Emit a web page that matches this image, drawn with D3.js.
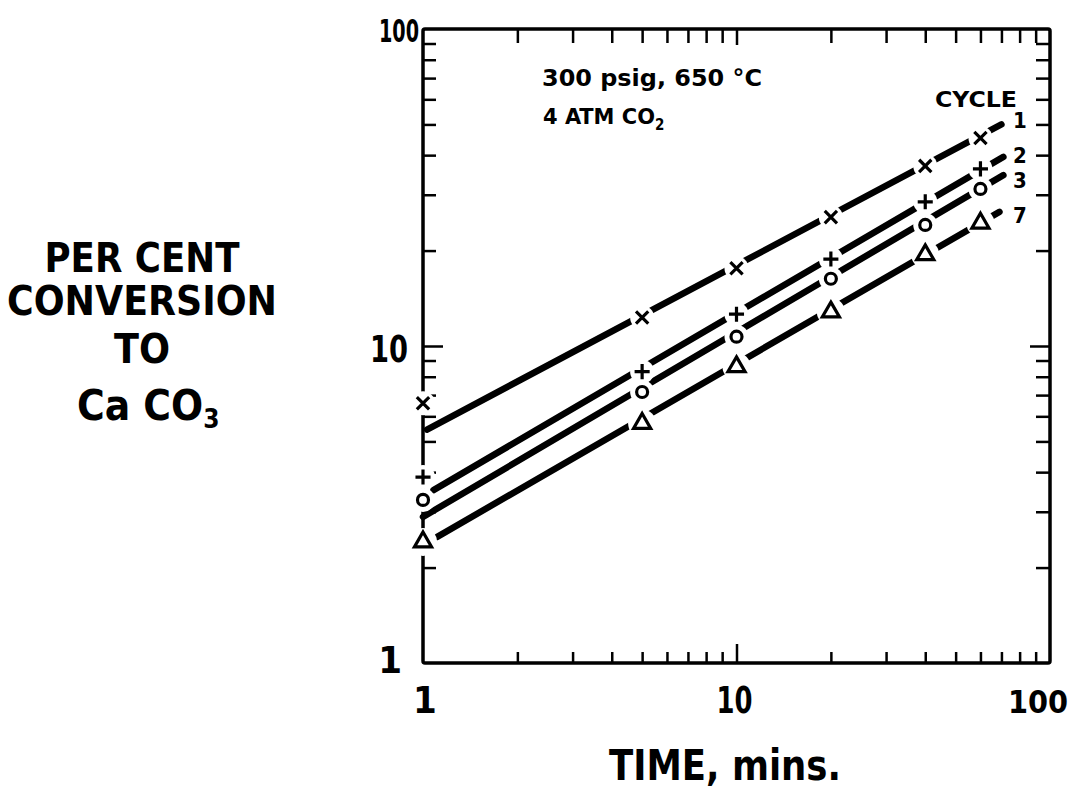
<!DOCTYPE html>
<html>
<head>
<meta charset="utf-8">
<script src="https://cdn.jsdelivr.net/npm/d3@7"></script>
<style>
  body { margin: 0; background: #fff; }
  text { font-family: "DejaVu Sans Condensed", "DejaVu Sans", sans-serif; font-weight: bold; fill: #000; }
</style>
</head>
<body>
<div id="chart"></div>
<script>
// Sample times (minutes)
const times = [1, 5, 10, 20, 40, 60];

// Per cent conversion for each cycle
const cycle1 = [6.6, 12.3, 17.6, 25.5, 37.0, 45.3];
const cycle2 = [3.86, 8.3, 12.6, 18.8, 28.5, 36.2];
const cycle3 = [3.27, 7.16, 10.7, 16.3, 24.1, 31.3];
const cycle7 = [2.41, 5.7, 8.6, 12.8, 19.4, 24.4];

// Fitted straight lines (start and end points, [time, conversion])
const fit1 = [[1.03, 5.45], [70, 50]];
const fit2 = [[1.08, 3.51], [71, 39.5]];
const fit3 = [[1.0, 2.89], [71, 34.6]];
const fit7 = [[1.11, 2.5], [69, 26.5]];

const cycleNames = ['1', '2', '3', '7'];
const symbols = [d3.symbolTimes, d3.symbolPlus, d3.symbolCircle, d3.symbolTriangle2];
const symbolSizes = [100, 76, 95, 210];

const xMajor = [1, 10, 100];
const yMajor = [1, 10, 100];
const minorTicks = [2, 3, 4, 5, 6, 7, 8, 9, 20, 30, 40, 50, 60, 70, 80, 90];

const width = 1084, height = 791;

const svg = d3.select('#chart')
  .append('svg')
  .attr('width', width)
  .attr('height', height)
  .style('background', '#fff');

const x = d3.scaleLog().domain([1, 100]).range([423, 1050]);
const y = d3.scaleLog().domain([1, 100]).range([663, 29]);

// Ticks pointing inward on all four sides
function tickAxis(axis, scale, values, size, transform) {
  svg.append('g')
    .attr('transform', transform)
    .call(axis(scale).tickValues(values).tickSize(size).tickFormat(''))
    .call(g => g.select('.domain').remove())
    .call(g => g.selectAll('line').attr('stroke', '#000').attr('stroke-width', 2.5));
}

tickAxis(d3.axisBottom, x, minorTicks, -11, `translate(0,${y(1)})`);
tickAxis(d3.axisBottom, x, [10], -19, `translate(0,${y(1)})`);
tickAxis(d3.axisTop, x, minorTicks, -14, `translate(0,${y(100)})`);
tickAxis(d3.axisTop, x, [10], -16, `translate(0,${y(100)})`);
tickAxis(d3.axisLeft, y, minorTicks, -13, `translate(${x(1)},0)`);
tickAxis(d3.axisLeft, y, [10], -20, `translate(${x(1)},0)`);
tickAxis(d3.axisRight, y, minorTicks, -14, `translate(${x(100)},0)`);
tickAxis(d3.axisRight, y, [10], -20, `translate(${x(100)},0)`);

// Frame
svg.append('rect')
  .attr('x', x(1))
  .attr('y', y(100))
  .attr('width', x(100) - x(1))
  .attr('height', y(1) - y(100))
  .attr('fill', 'none')
  .attr('stroke', '#000')
  .attr('stroke-width', 3.5)
  .attr('rx', 2);

// Tick labels (narrow, hand-lettered look)
svg.selectAll('.xlabel')
  .data(xMajor)
  .join('text')
  .attr('class', 'xlabel')
  .attr('x', d => d === 1 ? x(d) + 2 : (d === 100 ? 1068 : x(d) - 2))
  .attr('y', 713)
  .attr('text-anchor', d => d === 100 ? 'end' : 'middle')
  .attr('font-size', d => d === 100 ? 32 : 38)
  .each(function(d) {
    if (d === 10) {
      d3.select(this).attr('textLength', 36).attr('lengthAdjust', 'spacingAndGlyphs');
    }
  })
  .text(d => d);

svg.selectAll('.ylabel')
  .data(yMajor)
  .join('text')
  .attr('class', 'ylabel')
  .attr('x', d => d === 1 ? 402 : (d === 10 ? 408 : 419))
  .attr('y', d => y(d) + (d === 1 ? 10 : (d === 10 ? 16 : 13)))
  .attr('text-anchor', 'end')
  .attr('font-size', d => d === 100 ? 32 : 38)
  .each(function(d) {
    if (d !== 1) {
      d3.select(this).attr('textLength', d === 100 ? 40 : 38).attr('lengthAdjust', 'spacingAndGlyphs');
    }
  })
  .text(d => d);

// Fitted lines
const seriesValues = [cycle1, cycle2, cycle3, cycle7];
const fits = [fit1, fit2, fit3, fit7];

const line = d3.line().x(d => x(d[0])).y(d => y(d[1]));

svg.append('g')
  .selectAll('path')
  .data(fits)
  .join('path')
  .attr('d', line)
  .attr('fill', 'none')
  .attr('stroke', '#000')
  .attr('stroke-width', 6.5)
  .attr('stroke-linecap', 'round');

// White gaps in the lines around each marker
const points = [];
seriesValues.forEach((vals, i) => {
  vals.forEach((v, j) => points.push({ t: times[j], v, s: i }));
});

svg.append('g')
  .selectAll('circle')
  .data(points)
  .join('circle')
  .attr('cx', d => x(d.t))
  .attr('cy', d => y(d.v))
  .attr('r', d => d.s === 3 ? 14 : 12)
  .attr('fill', '#fff');

// Markers
svg.append('g')
  .selectAll('path')
  .data(points)
  .join('path')
  .attr('transform', d => `translate(${x(d.t)},${y(d.v)})`)
  .attr('d', d => d3.symbol(symbols[d.s], symbolSizes[d.s])())
  .attr('fill', d => d.s >= 2 ? '#fff' : 'none')
  .attr('stroke', '#000')
  .attr('stroke-width', 3.2);

// Cycle labels
svg.append('text')
  .attr('x', 976)
  .attr('y', 107)
  .attr('text-anchor', 'middle')
  .attr('font-size', 22)
  .attr('font-weight', 'normal')
  .attr('textLength', 82)
  .attr('lengthAdjust', 'spacingAndGlyphs')
  .text('CYCLE');

const cycleLabelY = [128, 163, 188, 223];
svg.selectAll('.cyc')
  .data(cycleNames)
  .join('text')
  .attr('class', 'cyc')
  .attr('x', 1020)
  .attr('y', (d, i) => cycleLabelY[i])
  .attr('text-anchor', 'middle')
  .attr('font-size', 22)
  .text(d => d);

// Conditions
svg.append('text')
  .attr('x', 542)
  .attr('y', 86)
  .attr('font-size', 23)
  .attr('textLength', 220)
  .attr('lengthAdjust', 'spacingAndGlyphs')
  .text('300 psig, 650 °C');

const co2 = svg.append('text')
  .attr('x', 543)
  .attr('y', 124)
  .attr('font-size', 22);
co2.append('tspan')
  .attr('textLength', 112)
  .attr('lengthAdjust', 'spacingAndGlyphs')
  .text('4 ATM  CO');
co2.append('tspan').attr('font-size', 15).attr('dy', 6).text('2');

// Axis titles
svg.append('text')
  .attr('x', 725)
  .attr('y', 780)
  .attr('text-anchor', 'middle')
  .attr('font-size', 42)
  .attr('textLength', 232)
  .attr('lengthAdjust', 'spacingAndGlyphs')
  .text('TIME, mins.');

const yTitle = [
  { text: 'PER CENT', y: 272, len: 195 },
  { text: 'CONVERSION', y: 315, len: 270 },
  { text: 'TO', y: 363, len: 56 }
];
svg.selectAll('.ytitle')
  .data(yTitle)
  .join('text')
  .attr('class', 'ytitle')
  .attr('x', 142)
  .attr('y', d => d.y)
  .attr('text-anchor', 'middle')
  .attr('font-size', 40)
  .attr('font-weight', 'normal')
  .attr('textLength', d => d.len)
  .attr('lengthAdjust', 'spacingAndGlyphs')
  .text(d => d.text);

const caco3 = svg.append('text')
  .attr('x', 77)
  .attr('y', 420)
  .attr('font-size', 42)
  .attr('font-weight', 'normal');
caco3.append('tspan').text('Ca CO');
caco3.append('tspan').attr('font-size', 26).attr('dy', 8).text('3');
</script>
</body>
</html>
